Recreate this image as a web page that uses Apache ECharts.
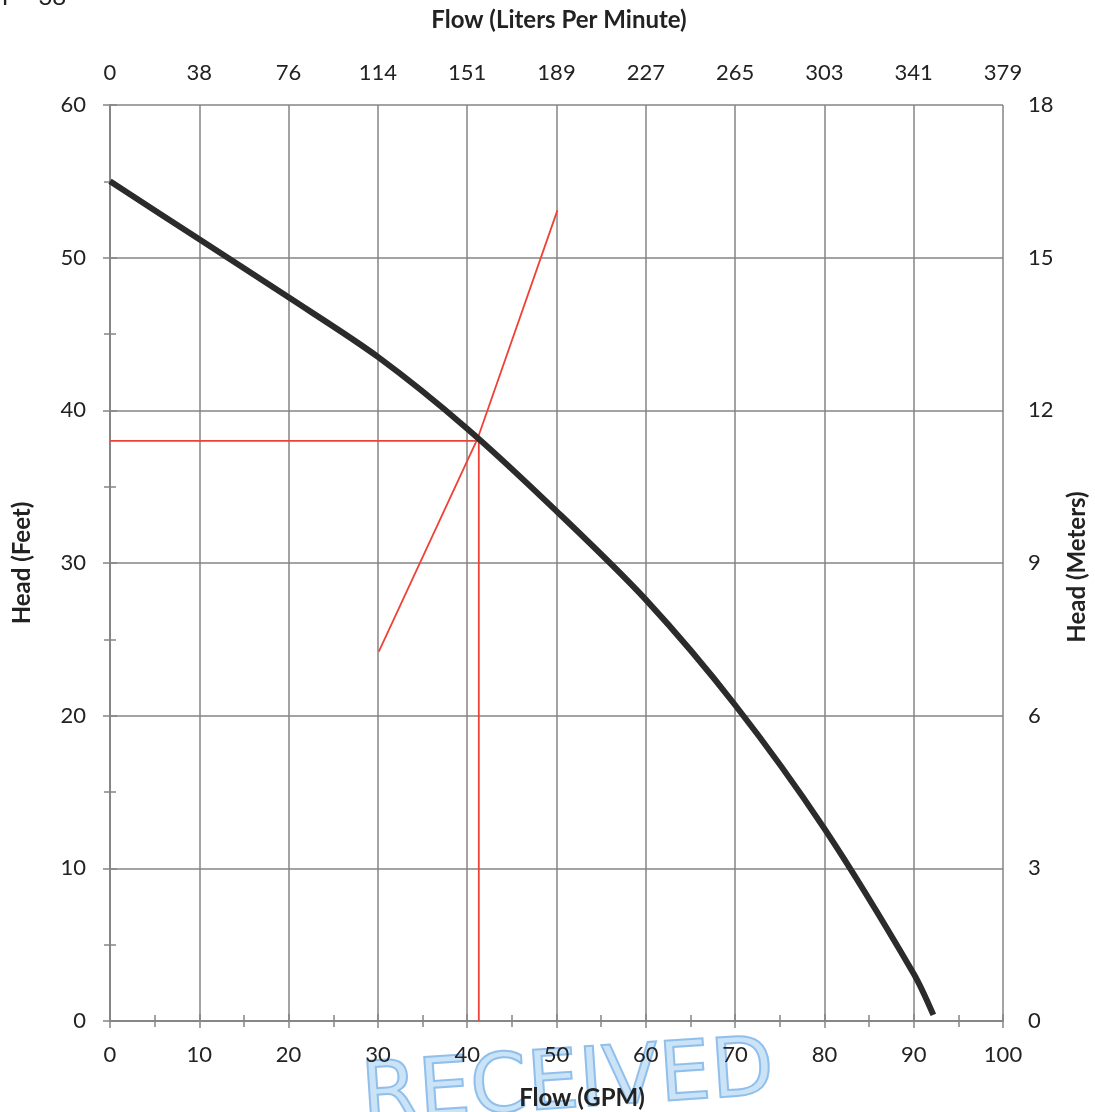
<!DOCTYPE html>
<html>
<head>
<meta charset="utf-8">
<script src="https://cdn.jsdelivr.net/npm/echarts@6/dist/echarts.min.js"></script>
<style>
  html, body { margin: 0; padding: 0; background: #ffffff; }
  #chart { width: 1095px; height: 1112px; }
</style>
</head>
<body>
<div id="chart"></div>
<script>
// ---- data ----
const gpmFlow = [0, 10, 20, 30, 40, 50, 60, 70, 80, 90, 92.2];
const headFeet = [55.0, 51.2, 47.4, 43.5, 38.8, 33.4, 27.6, 20.7, 12.6, 3.1, 0.4];

const dutyFlow = 41.3;   // GPM
const dutyHead = 38;     // feet
const systemFlow = [30.1, 41.2, 50.1];
const systemHead = [24.2, 38.2, 53.1];

const lpmLabels = ['0', '38', '76', '114', '151', '189', '227', '265', '303', '341', '379'];
const meterLabels = ['0', '3', '6', '9', '12', '15', '18'];

// ---- styles ----
const GRID_COLOR = '#858585';
const RED = '#ef4136';
const FONT = 'Lato';

const chart = echarts.init(document.getElementById('chart'), null, { renderer: 'canvas' });

function axisCommon() {
  return {
    type: 'value',
    min: 0,
    interval: 10,
    axisLine: { show: true, lineStyle: { color: GRID_COLOR, width: 1.5 } },
    axisTick: { show: true, length: 7, lineStyle: { color: GRID_COLOR, width: 1.5 } },
    minorTick: { show: true, splitNumber: 2, length: 6, lineStyle: { color: GRID_COLOR, width: 1.5 } },
    splitLine: { show: false },
    axisLabel: { color: '#222', fontFamily: FONT, fontSize: 22 }
  };
}

const xBottom = Object.assign(axisCommon(), {
  position: 'bottom', max: 100,
  splitLine: { show: true, lineStyle: { color: GRID_COLOR, width: 1.5 } }
});
xBottom.axisLabel.margin = 23;

const xTop = Object.assign(axisCommon(), {
  position: 'top', max: 100
});
xTop.axisLabel.margin = 21;
xTop.axisLabel.formatter = function (v) { return lpmLabels[Math.round(v / 10)]; };

const yLeft = Object.assign(axisCommon(), {
  position: 'left', max: 60,
  splitLine: { show: true, lineStyle: { color: GRID_COLOR, width: 1.5 } }
});
yLeft.axisLabel.margin = 24;

const yRight = Object.assign(axisCommon(), {
  position: 'right', max: 60
});
yRight.axisLabel.margin = 25;
yRight.axisLabel.formatter = function (v) { return meterLabels[Math.round(v / 10)]; };

const curveData = gpmFlow.map((f, i) => [f, headFeet[i]]);
const systemData = systemFlow.map((f, i) => [f, systemHead[i]]);

const option = {
  backgroundColor: '#ffffff',
  animation: false,
  grid: { left: 110, right: 92, top: 105, bottom: 91, containLabel: false },
  xAxis: [xBottom, xTop],
  yAxis: [yLeft, yRight],
  series: [
    {
      name: 'Pump curve', type: 'line', xAxisIndex: 0, yAxisIndex: 0,
      data: curveData, smooth: 0.3, showSymbol: false,
      lineStyle: { color: '#2b2b2b', width: 6 }, z: 5
    },
    {
      name: 'Duty head', type: 'line', xAxisIndex: 0, yAxisIndex: 0,
      data: [[0, dutyHead], [dutyFlow, dutyHead]], showSymbol: false,
      lineStyle: { color: RED, width: 1.8 }, z: 4
    },
    {
      name: 'Duty flow', type: 'line', xAxisIndex: 0, yAxisIndex: 0,
      data: [[dutyFlow, dutyHead], [dutyFlow, 0]], showSymbol: false,
      lineStyle: { color: RED, width: 1.8 }, z: 4
    },
    {
      name: 'System', type: 'line', xAxisIndex: 0, yAxisIndex: 0,
      data: systemData, showSymbol: false,
      lineStyle: { color: RED, width: 1.8 }, z: 4
    }
  ],
  graphic: [
    {
      type: 'text', z: -10, x: 568, y: 1086, rotation: 0.067,
      style: {
        text: 'RECEIVED', fontFamily: 'DejaVu Sans', fontSize: 82,
        fill: 'rgba(140,194,238,0.45)', stroke: 'rgba(110,170,228,0.75)', lineWidth: 2,
        textAlign: 'center', textVerticalAlign: 'middle'
      }
    },
    {
      type: 'text', x: 559, y: 20, z: 10,
      style: { text: 'Flow (Liters Per Minute)', fontFamily: FONT, fontWeight: 'bold', fontSize: 24,
        fill: '#222', textAlign: 'center', textVerticalAlign: 'middle' }
    },
    {
      type: 'text', x: 582, y: 1098, z: 10,
      style: { text: 'Flow (GPM)', fontFamily: FONT, fontWeight: 'bold', fontSize: 24,
        fill: '#222', textAlign: 'center', textVerticalAlign: 'middle' }
    },
    {
      type: 'text', x: 22, y: 563, rotation: Math.PI / 2, z: 10,
      style: { text: 'Head (Feet)', fontFamily: FONT, fontWeight: 'bold', fontSize: 24,
        fill: '#222', textAlign: 'center', textVerticalAlign: 'middle' }
    },
    {
      type: 'text', x: 1077, y: 567, rotation: Math.PI / 2, z: 10,
      style: { text: 'Head (Meters)', fontFamily: FONT, fontWeight: 'bold', fontSize: 24,
        fill: '#222', textAlign: 'center', textVerticalAlign: 'middle' }
    },
    {
      type: 'text', x: -2, y: -3, z: 10,
      style: { text: 'T = 38', fontFamily: FONT, fontSize: 24,
        fill: '#222', textAlign: 'left', textVerticalAlign: 'middle' }
    }
  ]
};

chart.setOption(option);
</script>
</body>
</html>
